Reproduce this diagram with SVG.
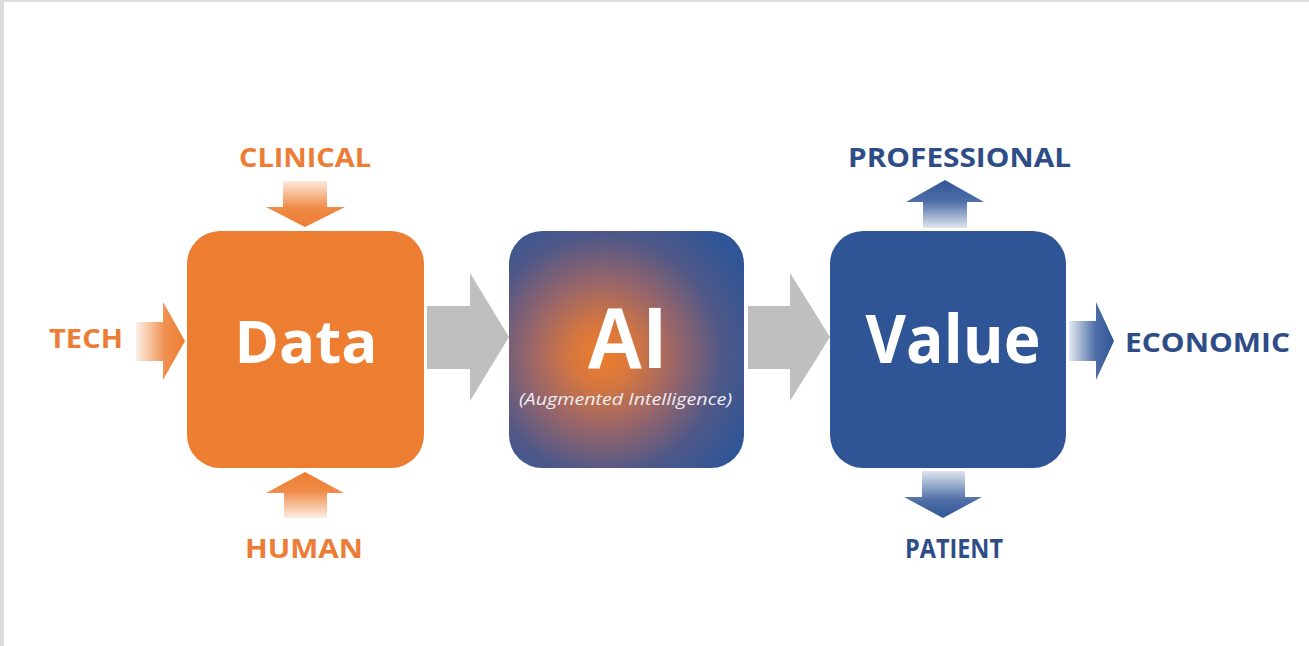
<svg xmlns="http://www.w3.org/2000/svg" width="1309" height="646" viewBox="0 0 1309 646">
<defs>
<style>
.lbl{font-family:"Open Sans","Liberation Sans",sans-serif;font-weight:700;font-size:27px;text-anchor:middle}
.or{fill:#EC7D36}
.bl{fill:#2E4D86}
.big{font-family:"Open Sans","Liberation Sans",sans-serif;font-weight:700;fill:#ffffff;text-anchor:middle}
.flow{fill:#BFBFBF}
</style>
<radialGradient id="aiGlow" cx="603" cy="355" r="165" gradientUnits="userSpaceOnUse">
<stop offset="0" stop-color="#EF7E2C"/>
<stop offset="0.2" stop-color="#D47640"/>
<stop offset="0.45" stop-color="#97656A"/>
<stop offset="0.72" stop-color="#4F5888"/>
<stop offset="1" stop-color="#2F5597"/>
</radialGradient>
<linearGradient id="gTech" x1="135" y1="0" x2="185" y2="0" gradientUnits="userSpaceOnUse">
<stop offset="0" stop-color="#ED7D31" stop-opacity="0.1"/>
<stop offset="0.6" stop-color="#ED7D31" stop-opacity="0.85"/>
<stop offset="1" stop-color="#ED7D31"/>
</linearGradient>
<linearGradient id="gClin" x1="0" y1="180" x2="0" y2="227" gradientUnits="userSpaceOnUse">
<stop offset="0" stop-color="#ED7D31" stop-opacity="0.15"/>
<stop offset="0.6" stop-color="#ED7D31" stop-opacity="0.9"/>
<stop offset="1" stop-color="#ED7D31"/>
</linearGradient>
<linearGradient id="gHum" x1="0" y1="519" x2="0" y2="472" gradientUnits="userSpaceOnUse">
<stop offset="0" stop-color="#ED7D31" stop-opacity="0.1"/>
<stop offset="0.6" stop-color="#ED7D31" stop-opacity="0.9"/>
<stop offset="1" stop-color="#ED7D31"/>
</linearGradient>
<linearGradient id="gProf" x1="0" y1="180" x2="0" y2="228" gradientUnits="userSpaceOnUse">
<stop offset="0" stop-color="#2F5597"/>
<stop offset="0.45" stop-color="#2F5597" stop-opacity="0.85"/>
<stop offset="1" stop-color="#2F5597" stop-opacity="0.15"/>
</linearGradient>
<linearGradient id="gEco" x1="1068" y1="0" x2="1114" y2="0" gradientUnits="userSpaceOnUse">
<stop offset="0" stop-color="#2F5597" stop-opacity="0.1"/>
<stop offset="0.6" stop-color="#2F5597" stop-opacity="0.85"/>
<stop offset="1" stop-color="#2F5597"/>
</linearGradient>
<linearGradient id="gPat" x1="0" y1="471" x2="0" y2="519" gradientUnits="userSpaceOnUse">
<stop offset="0" stop-color="#2F5597" stop-opacity="0.15"/>
<stop offset="0.6" stop-color="#2F5597" stop-opacity="0.85"/>
<stop offset="1" stop-color="#2F5597"/>
</linearGradient>
</defs>
<rect x="0" y="0" width="1309" height="646" fill="#ffffff"/>
<rect x="0" y="0" width="1309" height="2" fill="#DCDCDC"/>
<rect x="0" y="0" width="4" height="646" fill="#DCDCDC"/>

<g id="connectors">
<path id="flow-data-ai" class="flow" d="M427 306 H470 V273 L509 337 L470 401 V369 H427 Z"/>
<path id="flow-ai-value" class="flow" d="M748 306 H790 V273 L830 337 L790 401 V369 H748 Z"/>
<path id="arrow-tech" fill="url(#gTech)" d="M136 322 H163 V302 L185 341 L163 380 V361 H136 Z"/>
<path id="arrow-clinical" fill="url(#gClin)" d="M283 181 H327 V207 H345 L305 227 L266 207 H283 Z"/>
<path id="arrow-human" fill="url(#gHum)" d="M284 518 H327 V493 H344 L305 472 L266 493 H284 Z"/>
<path id="arrow-professional" fill="url(#gProf)" d="M923 228 H967 V202 H984 L945 180 L906 202 H923 Z"/>
<path id="arrow-economic" fill="url(#gEco)" d="M1069 321 H1096 V302 L1114 341 L1096 380 V361 H1069 Z"/>
<path id="arrow-patient" fill="url(#gPat)" d="M922 471 H965 V497 H982 L943 518 L904 497 H922 Z"/>
</g>

<g id="node-data">
<rect x="187" y="231" width="237" height="237" rx="33" fill="#ED7D31"/>
<text class="big" x="306" y="363" font-size="59" textLength="143" lengthAdjust="spacingAndGlyphs">Data</text>
</g>
<g id="node-ai">
<rect x="509" y="231" width="235" height="237" rx="33" fill="url(#aiGlow)"/>
<text x="626" y="368" font-family="'Liberation Sans','Open Sans',sans-serif" font-weight="700" font-size="88" fill="#ffffff" text-anchor="middle" textLength="80" lengthAdjust="spacingAndGlyphs">AI</text>
<text x="625.5" y="405" font-family="'Open Sans','Liberation Sans',sans-serif" font-style="italic" font-size="16.5" fill="#EEEEF4" text-anchor="middle" textLength="213" lengthAdjust="spacingAndGlyphs">(Augmented Intelligence)</text>
</g>
<g id="node-value">
<rect x="830" y="231" width="236" height="237" rx="33" fill="#2F5597"/>
<text class="big" x="953" y="363" font-size="66" textLength="175" lengthAdjust="spacingAndGlyphs">Value</text>
</g>

<g id="label-clinical"><text class="lbl or" x="305" y="167" textLength="132" lengthAdjust="spacingAndGlyphs">CLINICAL</text></g>
<g id="label-tech"><text class="lbl or" x="86" y="348" textLength="74" lengthAdjust="spacingAndGlyphs">TECH</text></g>
<g id="label-human"><text class="lbl or" x="304" y="558" textLength="118" lengthAdjust="spacingAndGlyphs">HUMAN</text></g>
<g id="label-professional"><text class="lbl bl" x="959.5" y="167" textLength="223" lengthAdjust="spacingAndGlyphs">PROFESSIONAL</text></g>
<g id="label-economic"><text class="lbl bl" x="1207.5" y="352" textLength="165" lengthAdjust="spacingAndGlyphs">ECONOMIC</text></g>
<g id="label-patient"><text class="lbl bl" x="954" y="558" textLength="98" lengthAdjust="spacingAndGlyphs">PATIENT</text></g>
</svg>
